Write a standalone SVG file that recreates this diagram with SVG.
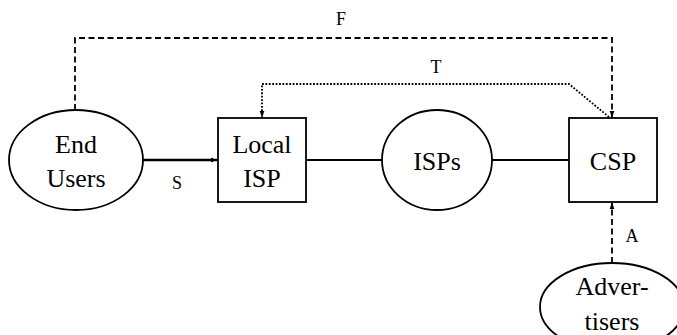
<svg xmlns="http://www.w3.org/2000/svg" width="677" height="335" viewBox="0 0 677 335">
  <style>
    .node { fill: #fff; stroke: #000; stroke-width: 1.8; }
    text { font-family: 'Liberation Serif', 'DejaVu Serif', serif; fill: #000; text-anchor: middle; }
    .lbl { font-size: 26px; }
    .edge-lbl { font-size: 18px; }
    .conn { fill: none; stroke: #000; stroke-width: 1.8; }
    .dashed { stroke-dasharray: 6 3.5; }
    .dotted { stroke-dasharray: 1.8 1.6; }
  </style>
  <defs>
    <marker id="arrow" viewBox="0 0 10 10" refX="9" refY="5" markerWidth="7" markerHeight="7" orient="auto" markerUnits="userSpaceOnUse">
      <path d="M0,1.5 L10,5 L0,8.5 Z" fill="#000"/>
    </marker>
  </defs>

  <g id="connectors">
    <!-- F: end users to CSP, dashed -->
    <path class="conn dashed" d="M75,110 V38 H612 V117" marker-end="url(#arrow)"/>
    <!-- T: CSP to local ISP, dotted -->
    <path class="conn dotted" d="M609,117 L569,84 H262 V117" marker-end="url(#arrow)"/>
    <!-- S: end users to local ISP -->
    <path class="conn" style="stroke-width:2.4" d="M143,160 H217" marker-end="url(#arrow)"/>
    <!-- links through the ISPs -->
    <path class="conn" d="M306,160 H382"/>
    <path class="conn" d="M491,160 H569"/>
    <!-- A: advertisers to CSP, dashed -->
    <path class="conn dashed" d="M612,263 V203" marker-end="url(#arrow)"/>
    <text class="edge-lbl" x="341" y="25">F</text>
    <text class="edge-lbl" x="436" y="73">T</text>
    <text class="edge-lbl" x="177" y="189">S</text>
    <text class="edge-lbl" x="632" y="242">A</text>
  </g>

  <g id="end-users">
    <ellipse class="node" cx="76" cy="160" rx="67" ry="50"/>
    <text class="lbl" x="76" y="153">End</text>
    <text class="lbl" x="76" y="187">Users</text>
  </g>

  <g id="local-isp">
    <rect class="node" x="218" y="118" width="88" height="84"/>
    <text class="lbl" x="262" y="153">Local</text>
    <text class="lbl" x="262" y="187">ISP</text>
  </g>

  <g id="isps">
    <ellipse class="node" cx="437" cy="160" rx="55" ry="50"/>
    <text class="lbl" x="437" y="170">ISPs</text>
  </g>

  <g id="csp">
    <rect class="node" x="569" y="118" width="88" height="84"/>
    <text class="lbl" x="613" y="170">CSP</text>
  </g>

  <g id="advertisers">
    <ellipse class="node" cx="612" cy="307" rx="72" ry="44"/>
    <text class="lbl" x="612" y="295">Adver-</text>
    <text class="lbl" x="612" y="330">tisers</text>
  </g>
</svg>
